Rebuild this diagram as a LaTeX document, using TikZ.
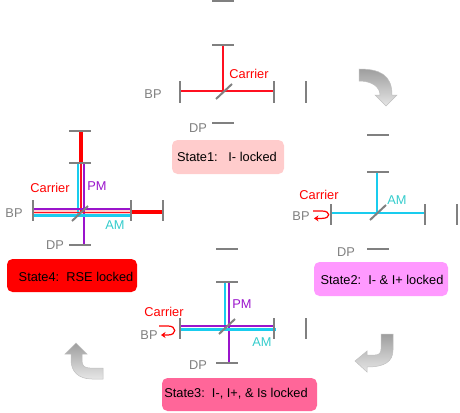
\documentclass[tikz,border=0pt]{standalone}
\usepackage{fontspec}
\setmainfont{Liberation Sans}
\usetikzlibrary{arrows.meta}
\definecolor{mirrorgray}{HTML}{808080}
\definecolor{labelgray}{HTML}{808080}
\definecolor{cyanbeam}{HTML}{19CCEE}
\definecolor{purplebeam}{HTML}{9A14CC}
\definecolor{redbeam}{HTML}{FF1020}
\definecolor{amtext}{HTML}{33CCCC}
\definecolor{boxone}{HTML}{FFCCCC}
\definecolor{boxtwo}{HTML}{FF99FF}
\definecolor{boxthree}{HTML}{FF6699}
\tikzset{
  x=1pt,y=-1pt,
  mirror/.style={draw=mirrorgray,line width=2pt},
  bs/.style={draw=mirrorgray,line width=2pt},
  redthin/.style={draw=redbeam,line width=1.3pt},
  redthick/.style={draw=red,line width=4.2pt},
  cyanline/.style={draw=cyanbeam,line width=2.5pt},
  purpline/.style={draw=purplebeam,line width=2pt},
  lab/.style={inner sep=0pt,font=\fontsize{12.8}{14}\selectfont},
  graylab/.style={lab,text=labelgray},
  redlab/.style={lab,text=red},
  amlab/.style={lab,text=amtext},
  pmlab/.style={lab,text=purplebeam},
  statelab/.style={inner sep=0pt,font=\fontsize{12.8}{14}\selectfont,text=black},
  statebox/.style={rounded corners=5.5pt},
  turnarrow/.style={draw=black!25,line width=0.5pt,top color=black!38,bottom color=black!10},
  retarrow/.style={draw=red,line width=1.2pt,-{Stealth[length=4.5pt,width=6pt]}},
}
\begin{document}
\begin{tikzpicture}
\useasboundingbox (0,0) rectangle (460,412);
% ---------- State 1
\draw[redthin] (223,45) -- (223,91);
\draw[redthin] (180,91) -- (273.5,91);
\draw[mirror] (212,0.7) -- (234,0.7);
\draw[mirror] (212,45) -- (234,45);
\draw[mirror] (212,123) -- (234,123);
\draw[mirror] (180,81) -- (180,103);
\draw[mirror] (273.5,81) -- (273.5,103);
\draw[mirror] (306,81) -- (306,103);
\draw[bs] (216,99) -- (232,84);
\node[graylab] (bpa) at (153,94) {BP};
\node[graylab] (dpa) at (198,128) {DP};
\node[redlab] (cara) at (249,74) {Carrier};
\fill[fill=boxone,statebox] (172,140) rectangle (284,174);
\node[statelab] (sta) at (227,157) {State1:\ \ \ I- locked};
% ---------- State 2
\draw[cyanline] (377,172) -- (377,213);
\draw[cyanline] (331,213) -- (425,213);
\draw[mirror] (367,135) -- (389,135);
\draw[mirror] (367,172) -- (389,172);
\draw[mirror] (367,249) -- (389,249);
\draw[mirror] (331,204) -- (331,225);
\draw[mirror] (425,204) -- (425,225);
\draw[mirror] (457,204) -- (457,225);
\draw[bs] (370,220) -- (386,205);
\node[graylab] (bpb) at (301,216) {BP};
\node[graylab] (dpb) at (346,252) {DP};
\node[redlab] (carb) at (319,195) {Carrier};
\node[amlab] (amb) at (397,200) {AM};
\draw[retarrow] (313,211) -- (322,211) .. controls (331,211) and (331,218.4) .. (322,218.4) -- (314,218.4);
\fill[fill=boxtwo,statebox] (314,262) rectangle (448,296);
\node[statelab] (stb) at (382,280) {State2:\ \ I- \& I+ locked};
% ---------- State 3
\draw[cyanline] (225,282) -- (225,329.3);
\draw[purpline] (228.7,282) -- (228.7,363);
\draw[purpline] (180,325.7) -- (273.7,325.7);
\draw[cyanline] (180,329.3) -- (275.7,329.3);
\draw[mirror] (216,249) -- (238,249);
\draw[mirror] (216,282) -- (238,282);
\draw[mirror] (216,363) -- (238,363);
\draw[mirror] (180,318) -- (180,339);
\draw[mirror] (273.7,318) -- (273.7,339);
\draw[mirror] (306,318) -- (306,339);
\draw[bs] (219,334) -- (235,319);
\node[graylab] (bpc) at (149,335) {BP};
\node[graylab] (dpc) at (198,365) {DP};
\node[redlab] (carc) at (164,312) {Carrier};
\node[pmlab] (pmc) at (242,304) {PM};
\node[amlab] (amc) at (262,342) {AM};
\draw[retarrow] (159,326) -- (168,326) .. controls (177,326) and (177,335) .. (168,335) -- (161,335);
\fill[fill=boxthree,statebox] (162,378) rectangle (317,411);
\node[statelab] (stc) at (236,394) {State3:\ \ I-, I+, \& Is locked};
% ---------- State 4
\fill[boxone] (33,209) rectangle (131,216);
\draw[redthick] (81,131) -- (81,163);
\draw[redthick] (131,212.3) -- (163,212.3);
\draw[cyanline] (78,163) -- (78,215.7);
\draw[redthin] (81,163) -- (81,212.3);
\draw[purpline] (83.7,163) -- (83.7,245);
\draw[purpline] (33,209) -- (131,209);
\draw[redthin] (33,212.3) -- (131,212.3);
\draw[cyanline] (33,215.7) -- (131,215.7);
\draw[mirror] (69,131) -- (91,131);
\draw[mirror] (69,163) -- (91,163);
\draw[mirror] (69,245) -- (91,245);
\draw[mirror] (33,200) -- (33,221);
\draw[mirror] (131,200) -- (131,221);
\draw[mirror] (163,200) -- (163,221);
\draw[bs] (72,221) -- (88,206);
\node[graylab] (bpd) at (14,213) {BP};
\node[graylab] (dpd) at (55,245) {DP};
\node[redlab] (card) at (50,188) {Carrier};
\node[pmlab] (pmd) at (97,186) {PM};
\node[amlab] (amd) at (115,225) {AM};
\fill[fill=red,statebox] (7,259) rectangle (137,292);
\node[statelab] (std) at (76,277) {State4:\ \ RSE locked};
% ---------- Turn arrows
\draw[turnarrow] (359,69) .. controls (380,69) and (392,75) .. (392,95) -- (397,95) -- (386,106) -- (375,95) -- (380,95) .. controls (380,87) and (372,81) .. (359,81) -- cycle;
\draw[turnarrow] (381,334) -- (393,334) -- (393,350) .. controls (393,362) and (384,367) .. (367,367) -- (367,372) -- (355,361) -- (367,351) -- (367,355) -- (375,355) .. controls (379,355) and (381,353) .. (381,349) -- cycle;
\draw[turnarrow] (103,368) -- (103,379) -- (92,379) .. controls (78,379) and (71,371) .. (71,360) -- (71,354) -- (65,354) -- (76,343) -- (87,354) -- (82,354) -- (82,361) .. controls (82,366) and (85,368) .. (90,368) -- cycle;
\end{tikzpicture}
\end{document}
